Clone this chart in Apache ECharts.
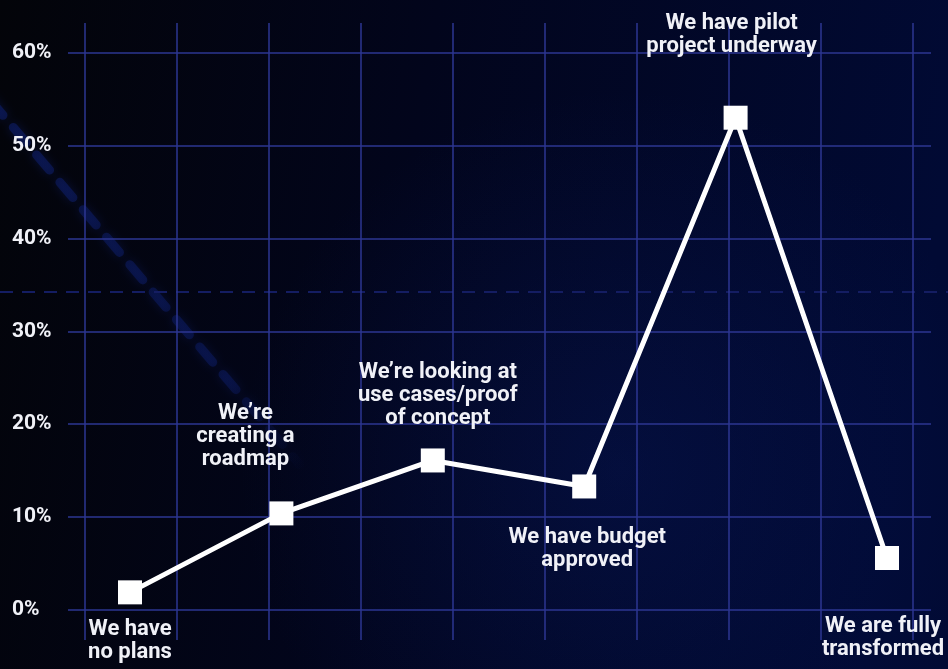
<!DOCTYPE html>
<html>
<head>
<meta charset="utf-8">
<title>AI adoption stage</title>
<script src="https://cdn.jsdelivr.net/npm/echarts@6/dist/echarts.min.js"></script>
<style>
  html, body { margin: 0; padding: 0; background: #02040f; }
  #chart { width: 948px; height: 669px; }
</style>
</head>
<body>
<div id="chart"></div>
<script>
// Adoption stages (x) and share of respondents in each stage (%)
const stages = [
  'We have\nno plans',
  'We\u2019re\ncreating a\nroadmap',
  'We\u2019re looking at\nuse cases/proof\nof concept',
  'We have budget\napproved',
  'We have pilot\nproject underway',
  'We are fully\ntransformed'
];
const shares = [1.9, 10.4, 16.1, 13.3, 53.0, 5.6];
const yTicks = [0, 10, 20, 30, 40, 50, 60];

// Where each stage's caption sits relative to its marker
const labelSides = ['bottom', 'top', 'top', 'bottom', 'top', 'bottom'];
const labelGaps = [14, 30, 18, 28, 48, 45];
const labelShift = [[0, 0], [-36, 0], [5, 0], [3, 0], [-4, 0], [-4, 0]];

const gridColor = '#2c3692';
const font = 'Roboto, "Noto Sans", sans-serif';

const chart = echarts.init(document.getElementById('chart'), null, { renderer: 'canvas' });

const points = shares.map((v, i) => ({
  value: v,
  label: {
    show: true,
    position: labelSides[i],
    distance: labelGaps[i],
    offset: labelShift[i],
    formatter: () => stages[i],
    color: '#f0f1f7',
    fontFamily: font,
    fontWeight: 'bold',
    fontSize: 22,
    lineHeight: 23,
    align: 'center'
  }
}));

chart.setOption({
  animation: false,
  backgroundColor: {
    type: 'linear', x: 0, y: 0, x2: 1, y2: 0.25,
    colorStops: [
      { offset: 0, color: '#030409' },
      { offset: 0.45, color: '#02051c' },
      { offset: 1, color: '#010a34' }
    ]
  },
  graphic: [
    // soft blue glow in the lower middle
    {
      type: 'circle', z: -10, silent: true,
      shape: { cx: 620, cy: 470, r: 380 },
      style: {
        fill: {
          type: 'radial', x: 0.5, y: 0.5, r: 0.5,
          colorStops: [
            { offset: 0, color: 'rgba(10,30,110,0.3)' },
            { offset: 1, color: 'rgba(10,30,110,0)' }
          ]
        }
      }
    },
    // diagonal light streak
    {
      type: 'line', z: -9, silent: true,
      shape: { x1: -10, y1: 100, x2: 300, y2: 465 },
      style: {
        stroke: {
          type: 'linear', x: 0, y: 0, x2: 1, y2: 1,
          colorStops: [
            { offset: 0, color: 'rgba(16,36,130,0.45)' },
            { offset: 0.75, color: 'rgba(16,36,130,0.35)' },
            { offset: 1, color: 'rgba(16,36,130,0)' }
          ]
        },
        lineWidth: 9,
        lineDash: [20, 16],
        lineCap: 'round',
        shadowBlur: 10,
        shadowColor: 'rgba(16,36,130,0.8)'
      }
    },
    // horizontal dashed guide
    {
      type: 'line', z: -9, silent: true,
      shape: { x1: 0, y1: 292, x2: 948, y2: 292 },
      style: { stroke: '#141d62', lineWidth: 2, lineDash: [13, 9] }
    }
  ],
  grid: [
    { left: 130, right: 61, top: 52.7, bottom: 59 },   // data
    { left: 85, right: 35, top: 23, bottom: 29 },      // vertical rules
    { left: 68, right: 17, top: 52.7, bottom: 59 }     // horizontal rules + y labels
  ],
  xAxis: [
    {
      gridIndex: 0, type: 'category', data: stages, boundaryGap: false,
      axisLine: { show: false }, axisTick: { show: false },
      axisLabel: { show: false }, splitLine: { show: false }
    },
    {
      gridIndex: 1, type: 'value', min: 0, max: 9, interval: 1,
      axisLine: { show: false }, axisTick: { show: false }, axisLabel: { show: false },
      splitLine: { show: true, lineStyle: { color: gridColor, width: 1.5 } }
    },
    {
      gridIndex: 2, type: 'value', min: 0, max: 1,
      axisLine: { show: false }, axisTick: { show: false }, axisLabel: { show: false },
      splitLine: { show: false }
    }
  ],
  yAxis: [
    {
      gridIndex: 0, type: 'value', min: 0, max: 60, interval: 10,
      axisLine: { show: false }, axisTick: { show: false },
      axisLabel: { show: false }, splitLine: { show: false }
    },
    {
      gridIndex: 1, type: 'value', min: 0, max: 1,
      axisLine: { show: false }, axisTick: { show: false }, axisLabel: { show: false },
      splitLine: { show: false }
    },
    {
      gridIndex: 2, type: 'value', min: yTicks[0], max: yTicks[yTicks.length - 1], interval: 10,
      axisLine: { show: false }, axisTick: { show: false },
      splitLine: { show: true, lineStyle: { color: gridColor, width: 1.5 } },
      axisLabel: {
        formatter: v => v + '%',
        align: 'left',
        margin: 56,
        color: '#f0f1f7',
        fontFamily: font,
        fontWeight: 'bold',
        fontSize: 21
      }
    }
  ],
  series: [
    {
      type: 'line',
      xAxisIndex: 0, yAxisIndex: 0,
      data: points,
      symbol: 'rect',
      symbolSize: 24,
      showAllSymbol: true,
      itemStyle: { color: '#ffffff' },
      lineStyle: { color: '#ffffff', width: 5 },
      z: 5
    }
  ]
});
</script>
</body>
</html>
